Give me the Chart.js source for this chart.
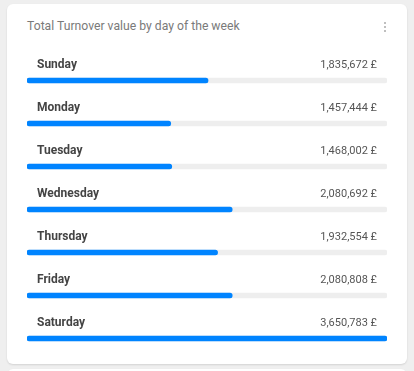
<!DOCTYPE html>
<html>
<head>
<meta charset="utf-8">
<script src="https://cdn.jsdelivr.net/npm/chart.js@4/dist/chart.umd.min.js"></script>
<style>
  html,body{margin:0;padding:0;background:#efefef;width:414px;height:371px;overflow:hidden;font-family:Roboto,"Noto Sans",sans-serif;}
  .card{position:absolute;left:7px;top:4px;width:400px;height:360px;background:#fff;border-radius:6px;box-shadow:0 1px 2px rgba(0,0,0,0.12);}
  .card2{position:absolute;left:7px;top:369px;width:400px;height:40px;background:#fff;border-radius:6px;box-shadow:0 1px 2px rgba(0,0,0,0.12);}
  .title{position:absolute;left:20px;top:15px;font-size:12.2px;line-height:14px;color:#7a7a7a;white-space:nowrap;}
  .kebab{position:absolute;left:377px;top:18px;width:2px;}
  .kebab span{display:block;width:2px;height:2px;border-radius:1px;background:#aaa;margin-bottom:2px;}
  canvas{position:absolute;left:0;top:0;}
</style>
</head>
<body>
<div class="card">
  <div class="title">Total Turnover value by day of the week</div>
  <div class="kebab"><span></span><span></span><span></span></div>
  <canvas id="c" width="400" height="360"></canvas>
</div>
<div class="card2"></div>
<script>
const days = ["Sunday","Monday","Tuesday","Wednesday","Thursday","Friday","Saturday"];
const turnover = [1835672, 1457444, 1468002, 2080692, 1932554, 2080808, 3650783];
const currency = "£";

const maxVal = Math.max(...turnover);
const track = days.map(() => maxVal);

const rowText = {
  id: 'rowText',
  afterDatasetsDraw(chart) {
    const ctx = chart.ctx;
    const area = chart.chartArea;
    const meta = chart.getDatasetMeta(0);
    ctx.save();
    meta.data.forEach((bar, i) => {
      const y = bar.y - 13;
      ctx.textBaseline = 'alphabetic';
      ctx.font = 'bold 12px Roboto';
      ctx.fillStyle = '#444';
      ctx.textAlign = 'left';
      ctx.fillText(days[i], area.left + 10, y);
      ctx.font = '11px Roboto';
      ctx.fillStyle = '#555';
      ctx.textAlign = 'right';
      ctx.fillText(turnover[i].toLocaleString('en-US') + ' ' + currency, area.right - 10, y);
    });
    ctx.restore();
  }
};

new Chart(document.getElementById('c'), {
  type: 'bar',
  data: {
    labels: days,
    datasets: [
      { data: turnover, backgroundColor: '#0084ff', barThickness: 5, borderRadius: 3, borderSkipped: false, grouped: false, order: 0 },
      { data: track, backgroundColor: '#eeeeee', barThickness: 5, borderRadius: 3, borderSkipped: false, grouped: false, order: 1 }
    ]
  },
  options: {
    indexAxis: 'y',
    responsive: false,
    animation: false,
    layout: { padding: { top: 55, bottom: 4, left: 20, right: 20 } },
    plugins: { legend: { display: false }, tooltip: { enabled: false }, title: { display: false } },
    scales: {
      x: { display: false, min: 0, max: maxVal },
      y: { display: false, offset: true }
    }
  },
  plugins: [rowText]
});
</script>
</body>
</html>
